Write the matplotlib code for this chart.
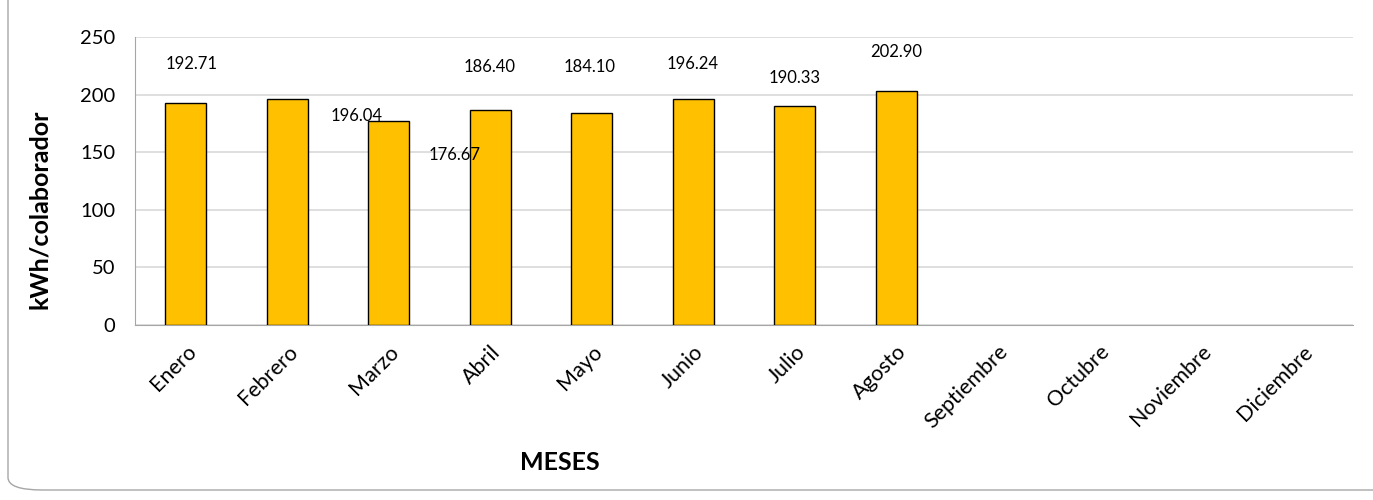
import matplotlib
matplotlib.use("Agg")
import matplotlib.pyplot as plt
from matplotlib.patches import FancyBboxPatch

plt.rcParams["font.family"] = ["Lato", "DejaVu Sans"]

# datos
meses = ["Enero", "Febrero", "Marzo", "Abril", "Mayo", "Junio", "Julio",
         "Agosto", "Septiembre", "Octubre", "Noviembre", "Diciembre"]
valores = [192.71, 196.04, 176.67, 186.40, 184.10, 196.24, 190.33, 202.90]
# desplazamiento de cada etiqueta respecto a su barra (x en categorias, y en kWh)
etiqueta_dx = [0.06, 0.68, 0.65, -0.01, -0.02, -0.01, 0.0, 0.0]
etiqueta_dy = [34, -14.6, -29, 37.6, 40, 30, 24, 34]

fig = plt.figure(figsize=(13.73, 5.0), dpi=100)
ax = fig.add_axes([135 / 1373, 1 - 325 / 500, (1353 - 135) / 1373, 288 / 500])

# marco redondeado del grafico
marco = FancyBboxPatch((8 / 1373, 10 / 500), 1400 / 1373, 520 / 500,
                       boxstyle="round,pad=0,rounding_size=0.025",
                       transform=fig.transFigure, facecolor="none",
                       edgecolor="#a6a6a6", linewidth=1.0, clip_on=False)
fig.patches.append(marco)

x = list(range(len(valores)))
ax.bar(x, valores, width=0.4, color="#ffc000", edgecolor="black",
       linewidth=1.0, zorder=3)

for i, v in enumerate(valores):
    ax.text(i + etiqueta_dx[i], v + etiqueta_dy[i], f"{v:.2f}",
            ha="center", va="center", fontsize=12, zorder=4)

ax.set_xlim(-0.5, len(meses) - 0.5)
ax.set_ylim(0, 250)
ax.set_yticks(range(0, 251, 50))
ax.set_xticks(range(len(meses)))
ax.set_xticklabels(meses, rotation=45, ha="right", rotation_mode="anchor",
                   fontsize=15.5)
ax.tick_params(axis="y", labelsize=14.5, length=0, pad=14)
ax.tick_params(axis="x", length=0, pad=12)

ax.grid(axis="y", color="#d9d9d9", linewidth=1.2, zorder=0)
ax.set_axisbelow(True)
for lado in ["top", "right"]:
    ax.spines[lado].set_visible(False)
ax.spines["left"].set_color("#a6a6a6")
ax.spines["bottom"].set_color("#a6a6a6")

fig.text(40 / 1373, 1 - 209 / 500, "kWh/colaborador", fontsize=18,
         fontweight="bold", rotation=90, ha="center", va="center")
fig.text(560 / 1373, 1 - 463 / 500, "MESES", fontsize=18, fontweight="bold",
         ha="center", va="center")

fig.savefig("out.png", dpi=100)
